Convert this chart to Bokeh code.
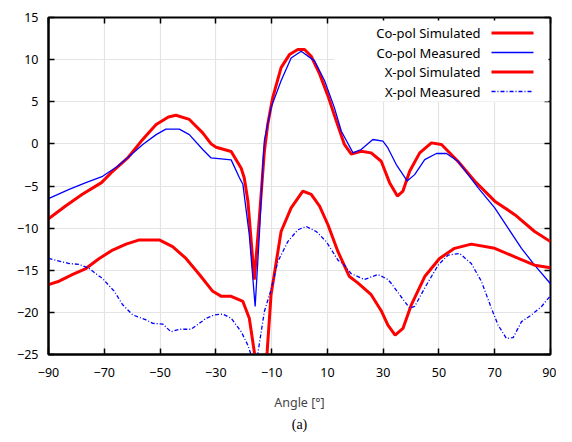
from bokeh.plotting import figure
from bokeh.models import (LinearAxis, FixedTicker, Label, Arrow, BoxAnnotation, Title, Range1d)
from bokeh.embed import file_html
from bokeh.resources import INLINE

# ---------------- data ----------------
cs_ang = [-90, -84, -78, -71, -67, -61.6, -56.8, -51.4, -47, -44.3, -39.5, -34.7, -31.7, -29.9,
          -24.5, -20.9, -19.8, -18.5, -18, -16.2, -14.4, -12.6, -11.4, -9.6, -6.6, -3.6, -0.6,
          1.8, 4.2, 7.2, 10.2, 13.2, 16.1, 18.5, 22.1, 25.7, 29.3, 32.3, 35.1, 37.1, 39.5, 43.1,
          47.3, 50.9, 56.8, 62.8, 70, 77.2, 84.3, 90]
cs_val = [-8.9, -7.4, -6.0, -4.6, -3.25, -1.67, 0.3, 2.3, 3.2, 3.4, 2.9, 1.3, 0.0, -0.4,
          -0.9, -2.9, -4.05, -6.8, -8.8, -16.1, -8.8, -0.9, 2.3, 5.5, 9.05, 10.6, 11.2,
          11.2, 10.4, 8.3, 5.7, 2.7, -0.07, -1.2, -0.87, -1.07, -2.06, -4.6, -6.2, -5.6, -3.25, -1.07,
          0.12, -0.07, -2.06, -4.4, -6.8, -8.4, -10.4, -11.6]

cm_ang = [-90, -82.6, -76.6, -70.6, -65.2, -61, -56.2, -51.4, -47.9, -43.1, -39.5, -34.7, -31.7,
          -24.5, -21.5, -20.3, -18, -15.9, -14.4, -13.2, -12.6, -10.2, -6.6, -3, 0.6, 5.4, 9,
          12.5, 15, 19.2, 22.1, 26.3, 29.9, 31.7, 34.7, 38.6, 41.3, 44.9, 49.1, 52.7, 56.8, 64,
          70, 74.8, 79.6, 84.3, 90]
cm_val = [-6.5, -5.4, -4.6, -3.85, -2.65, -1.46, -0.07, 1.1, 1.75, 1.75, 1.1, -0.67, -1.67,
          -1.9, -4.05, -4.8, -10.8, -19.3, -10.8, -2.86, 0.4, 4.3, 7.5, 10.2, 11.0, 9.85, 7.5,
          4.3, 1.5, -1.07, -0.67, 0.52, 0.32, -0.48, -2.45, -4.4, -3.65, -1.87, -1.14, -1.14, -2.06, -5.2,
          -7.6, -10.0, -12.4, -14.4, -16.6]

xs_ang = [-90, -86.2, -81.3, -76.6, -71.8, -67, -62.2, -57.4, -50.3, -45.5, -40.7, -35.9, -31.1,
          -28, -24.5, -20.3, -18, -16.2, -14, -11.6, -10.2, -6.6, -3, 1.2, 4.2, 7.2, 10.2, 13.8,
          17.9, 20.9, 25.7, 29.3, 31.7, 34.3, 37.1, 40.1, 44.9, 50.2, 55.6, 61.6, 70, 77.2, 84.3, 90]
xs_val = [-16.7, -16.3, -15.5, -14.8, -13.6, -12.6, -11.9, -11.4, -11.4, -12.2, -13.6, -15.5, -17.5,
          -18.1, -18.1, -18.7, -20.7, -24.7, -32, -24.7, -17.9, -10.4, -7.6, -5.6, -6.0, -7.4, -9.6, -12.8,
          -15.75, -16.5, -17.9, -19.8, -21.5, -22.7, -21.9, -19.1, -15.75, -13.6, -12.4, -11.9, -12.4, -13.4, -14.4, -14.7]

xm_ang = [-90, -82.6, -79, -75.4, -70.6, -66.4, -63.4, -59.8, -55, -52.6, -49, -46.1, -43.1, -38.9,
          -35.9, -33.5, -30.5, -27.5, -24.5, -20.9, -18.5, -17.4, -16.2, -15, -12.6, -10.2, -7.8, -4.2,
          -0.6, 2.4, 6, 9.6, 13.8, 16.1, 18.5, 23.3, 28.1, 31.7, 33, 35.9, 39.5, 41.3, 44.9, 49.7,
          53.3, 57.4, 61.6, 65.2, 68.8, 71.2, 74.2, 76.6, 79.6, 83.2, 86.8, 90]
xm_val = [-13.6, -14.2, -14.3, -14.8, -16.0, -17.5, -19.1, -20.3, -20.9, -21.3, -21.4, -22.3, -22.0, -22.0,
          -21.3, -20.7, -20.3, -20.2, -20.7, -22.3, -23.9, -25, -28, -25, -19.9, -17.3, -14.0, -11.6,
          -10.2, -9.8, -10.4, -11.6, -13.8, -14.4, -15.4, -16.1, -15.5, -16.1, -16.6, -17.9, -19.5, -19.3, -17.1, -14.4,
          -13.2, -13.0, -14.2, -16.3, -19.5, -21.5, -23.1, -23.0, -21.1, -20.3, -19.3, -18.0]

x_ticks = [-90, -70, -50, -30, -10, 10, 30, 50, 70, 90]
y_ticks = [-25, -20, -15, -10, -5, 0, 5, 10, 15]
series_names = ["Co-pol Simulated", "Co-pol Measured", "X-pol Simulated", "X-pol Measured"]
x_label = "Angle [°]"
caption = "(a)"

# ---------------- styling ----------------
FONT = "Noto Sans"
RED = "#ff0000"
BLUE = "#0000ff"
FW, FH = 502, 337
BL, BR, BT, BB = 48, 6, 17, 80

p = figure(width=BL + FW + BR, height=BT + FH + BB,
           x_range=Range1d(-90, 90), y_range=Range1d(-25, 15),
           output_backend="svg", toolbar_location=None,
           min_border_left=BL, min_border_right=BR, min_border_top=BT, min_border_bottom=BB)
p.background_fill_color = "white"
p.border_fill_color = "white"
p.outline_line_color = "black"
p.outline_line_width = 2

p.xaxis.ticker = FixedTicker(ticks=x_ticks)
p.yaxis.ticker = FixedTicker(ticks=y_ticks)
for ax in (p.xaxis[0], p.yaxis[0]):
    ax.major_tick_in = 6
    ax.major_tick_out = 0
    ax.minor_tick_line_color = None
    ax.axis_line_color = "black"
    ax.axis_line_width = 2
    ax.major_tick_line_width = 1.5
    ax.major_label_text_font = FONT
    ax.major_label_text_font_size = "12.5px"
    ax.major_label_text_color = "black"
p.xaxis.major_label_standoff = 13
p.yaxis.major_label_standoff = 10
p.xaxis.axis_label = x_label
p.xaxis.axis_label_text_font = FONT
p.xaxis.axis_label_text_font_size = "12.5px"
p.xaxis.axis_label_text_font_style = "normal"
p.xaxis.axis_label_standoff = 14

top = LinearAxis(ticker=FixedTicker(ticks=x_ticks), major_tick_in=6, major_tick_out=0,
                 minor_tick_line_color=None, major_label_text_font_size="1px",
                 major_label_text_color=None, major_label_standoff=0,
                 axis_line_color=None, major_tick_line_width=1.5)
right = LinearAxis(ticker=FixedTicker(ticks=y_ticks), major_tick_in=6, major_tick_out=0,
                   minor_tick_line_color=None, major_label_text_font_size="1px",
                   major_label_text_color=None, major_label_standoff=0,
                   axis_line_color=None, major_tick_line_width=1.5)
p.add_layout(top, "above")
p.add_layout(right, "right")

p.xgrid.grid_line_color = "#e4e4e4"
p.ygrid.grid_line_color = "#e4e4e4"
p.xgrid.grid_line_width = 1.2
p.ygrid.grid_line_width = 1.2

p.line(cs_ang, cs_val, line_color=RED, line_width=3)
p.line(cm_ang, cm_val, line_color=BLUE, line_width=1.3)
p.line(xs_ang, xs_val, line_color=RED, line_width=3)
p.line(xm_ang, xm_val, line_color=BLUE, line_width=1.3, line_dash="4 2 1 2")

# ---------------- legend (text right-aligned, sample line to its right) ----------------
styles = [dict(line_color=RED, line_width=3), dict(line_color=BLUE, line_width=1.3),
          dict(line_color=RED, line_width=3), dict(line_color=BLUE, line_width=1.3, line_dash="4 2 1 2")]
p.add_layout(BoxAnnotation(left=286, right=FW - 2, top=FH - 3, bottom=FH - 84,
                           left_units="screen", right_units="screen", top_units="screen", bottom_units="screen",
                           fill_color="white", fill_alpha=1, line_color=None, level="overlay"))
row_y = [15.5, 35, 54.5, 74]
for name, st, ry in zip(series_names, styles, row_y):
    p.add_layout(Label(x=432, y=FH - ry, x_units="screen", y_units="screen", text=name,
                       text_align="right", text_baseline="middle", text_font=FONT,
                       text_font_size="13px", text_color="black", level="overlay"))
    p.add_layout(Arrow(x_start=443, y_start=FH - ry, x_end=485, y_end=FH - ry,
                       start_units="screen", end_units="screen", end=None, start=None,
                       level="overlay", **st))

p.add_layout(Title(text=caption, align="center", text_font="Liberation Serif",
                   text_font_size="14px", text_font_style="normal", text_color="black",
                   standoff=3), "below")

open("out.html", "w").write(file_html(p, INLINE))
